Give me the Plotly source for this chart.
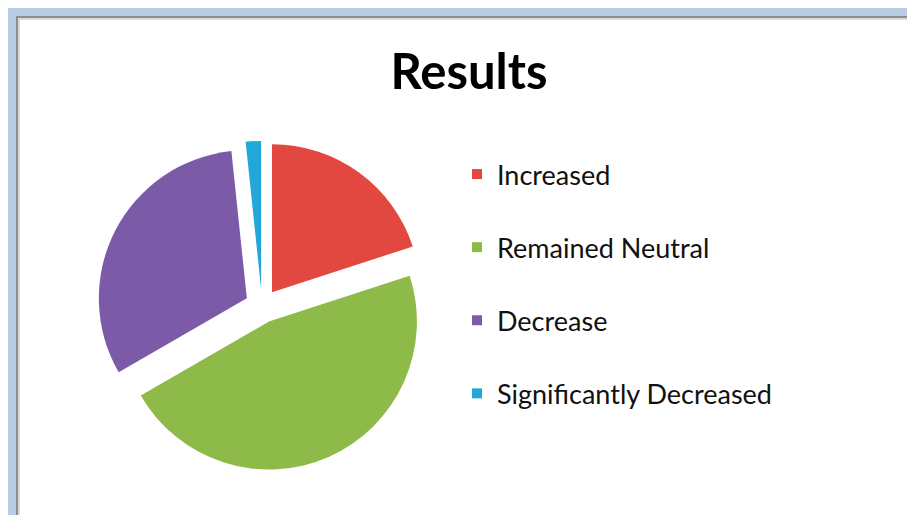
import plotly.graph_objects as go

# ---- data ----
categories = ["Increased", "Remained Neutral", "Decrease", "Significantly Decreased"]
values = [12, 28, 19, 1]
colors = ["#E2483F", "#8DBA49", "#7B5BA7", "#22A8D8"]
title_text = "Results"

W, H = 915, 515
FRAME = "#B8CCE4"

fig = go.Figure()

fig.add_trace(go.Pie(
    labels=categories,
    values=values,
    sort=False,
    direction="clockwise",
    rotation=0,
    pull=[0.115] * len(values),
    marker=dict(colors=colors, line=dict(width=0)),
    textinfo="none",
    hoverinfo="label+percent",
    showlegend=False,
    domain=dict(x=[89 / W, 419 / W], y=[1 - 464 / H, 1 - 132 / H]),
))

# legend entries (one group per category so the rows can be spaced apart)
for i, (cat, col) in enumerate(zip(categories, colors)):
    fig.add_trace(go.Scatter(
        x=[None], y=[None], mode="markers", name=cat,
        legendgroup=str(i),
        marker=dict(symbol="square", size=10, color=col),
        hoverinfo="skip",
    ))

fig.update_layout(
    width=W, height=H,
    margin=dict(l=0, r=0, t=0, b=0),
    paper_bgcolor="#FFFFFF",
    plot_bgcolor="rgba(0,0,0,0)",
    xaxis=dict(visible=False),
    yaxis=dict(visible=False),
    title=dict(
        text="<b>%s</b>" % title_text,
        x=461 / W, xanchor="center",
        y=1 - 64 / H, yanchor="middle",
        font=dict(family="Lato", size=49, color="#000000"),
    ),
    legend=dict(
        x=449 / W, xanchor="left",
        y=1 - 142 / H, yanchor="top",
        font=dict(family="Lato", size=27, color="#111111"),
        bgcolor="rgba(0,0,0,0)",
        tracegroupgap=35,
        traceorder="grouped",
    ),
    showlegend=True,
    shapes=[
        # blue frame (top and left bands)
        dict(type="rect", xref="paper", yref="paper", layer="below",
             x0=-0.02, x1=1.02, y0=1 - 8 / H, y1=1.02,
             fillcolor=FRAME, line=dict(width=0)),
        dict(type="rect", xref="paper", yref="paper", layer="below",
             x0=-0.02, x1=8 / W, y0=-0.02, y1=1.02,
             fillcolor=FRAME, line=dict(width=0)),
        # shadow lines
        dict(type="line", xref="paper", yref="paper", layer="below",
             x0=8 / W, x1=1.02, y0=1 - 9 / H, y1=1 - 9 / H,
             line=dict(color="#8E8E8E", width=2)),
        dict(type="line", xref="paper", yref="paper", layer="below",
             x0=9 / W, x1=9 / W, y0=-0.02, y1=1 - 8 / H,
             line=dict(color="#8E8E8E", width=2)),
        dict(type="line", xref="paper", yref="paper", layer="below",
             x0=10 / W, x1=1.02, y0=1 - 11 / H, y1=1 - 11 / H,
             line=dict(color="#DADADA", width=2)),
        dict(type="line", xref="paper", yref="paper", layer="below",
             x0=11 / W, x1=11 / W, y0=-0.02, y1=1 - 10 / H,
             line=dict(color="#DADADA", width=2)),
    ],
)

fig.write_html("out.html")
